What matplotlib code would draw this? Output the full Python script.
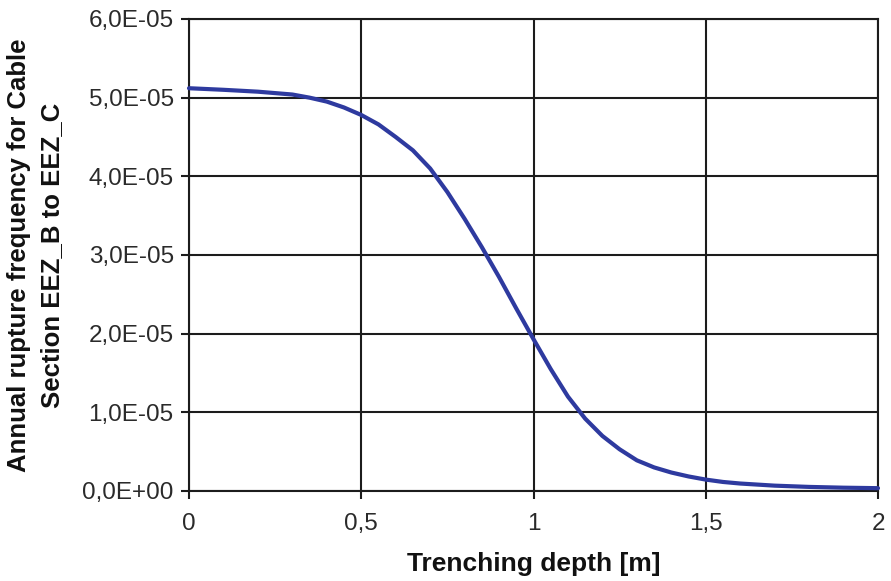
import matplotlib
matplotlib.use("Agg")
import matplotlib.pyplot as plt
from matplotlib.ticker import FuncFormatter

# Trenching depth [m] and annual rupture frequency
depth = [0.0, 0.1, 0.2, 0.3, 0.35, 0.4, 0.45, 0.5, 0.55, 0.6, 0.65, 0.7,
         0.75, 0.8, 0.85, 0.9, 0.95, 1.0, 1.05, 1.1, 1.15, 1.2, 1.25, 1.3,
         1.35, 1.4, 1.45, 1.5, 1.55, 1.6, 1.7, 1.8, 1.9, 2.0]
frequency = [5.12e-5, 5.10e-5, 5.076e-5, 5.04e-5, 5.00e-5, 4.95e-5, 4.875e-5,
             4.78e-5, 4.66e-5, 4.50e-5, 4.33e-5, 4.10e-5, 3.80e-5, 3.46e-5,
             3.10e-5, 2.72e-5, 2.32e-5, 1.93e-5, 1.55e-5, 1.20e-5, 0.92e-5,
             0.70e-5, 0.53e-5, 0.39e-5, 0.30e-5, 0.235e-5, 0.185e-5, 0.145e-5,
             0.115e-5, 0.095e-5, 0.068e-5, 0.052e-5, 0.042e-5, 0.036e-5]

x_ticks = [0, 0.5, 1, 1.5, 2]
y_ticks = [0, 1e-5, 2e-5, 3e-5, 4e-5, 5e-5, 6e-5]

plt.rcParams['font.family'] = ['Liberation Sans', 'DejaVu Sans']

fig = plt.figure(figsize=(8.91, 5.81), dpi=100)
ax = fig.add_axes([189 / 891, 1 - 491 / 581, (878 - 189) / 891, (491 - 19) / 581])

ax.plot(depth, frequency, color='#2e3a9f', linewidth=3, solid_capstyle='round',
        solid_joinstyle='round', zorder=3, clip_on=False)

ax.set_xlim(0, 2)
ax.set_ylim(0, 6e-5)
ax.set_xticks(x_ticks)
ax.set_yticks(y_ticks)


def fmt_x(v, pos):
    return f"{v:g}".replace('.', ',')


def fmt_y(v, pos):
    mant, exp = f"{v:.1E}".split('E')
    e = int(exp)
    return f"{mant.replace('.', ',')}E{'+' if e >= 0 else '-'}{abs(e):02d}"


ax.xaxis.set_major_formatter(FuncFormatter(fmt_x))
ax.yaxis.set_major_formatter(FuncFormatter(fmt_y))

ax.grid(True, color='#1c1c1c', linewidth=1.5)
ax.set_axisbelow(True)
for sp in ax.spines.values():
    sp.set_color('#1c1c1c')
    sp.set_linewidth(1.5)

ax.tick_params(axis='both', direction='out', length=6, width=1.5, color='#1c1c1c',
               labelsize=17.5, labelcolor='#2a2a2a')
ax.tick_params(axis='x', pad=10)
ax.tick_params(axis='y', pad=5)

ax.set_xlabel('Trenching depth [m]', fontsize=19, fontweight='bold', color='#111111',
              labelpad=12)
ax.set_ylabel('Annual rupture frequency for Cable\nSection EEZ_B to EEZ_C', fontsize=18.5,
              fontweight='bold', color='#111111', linespacing=1.45)
ax.yaxis.set_label_coords((64 - 189) / 689, 0.5)

fig.savefig('out.png', dpi=100, facecolor='white')
